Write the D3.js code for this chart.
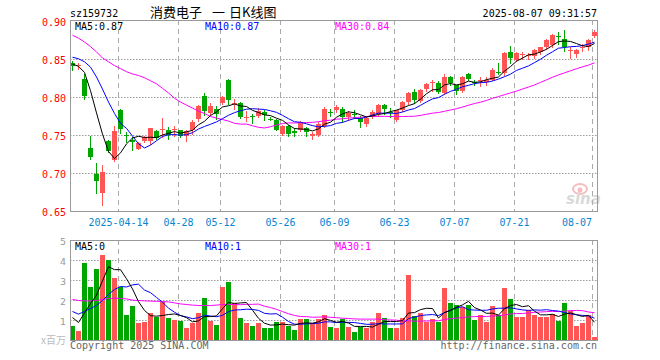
<!DOCTYPE html>
<html>
<head>
<meta charset="utf-8">
<script src="https://d3js.org/d3.v7.min.js"></script>
<style>
body { margin: 0; background: #fff; }
svg text { font-family: "DejaVu Sans Mono", "Liberation Mono", monospace; font-size: 10px; }
</style>
</head>
<body>
<div id="chart"></div>
<script>

// trading days shown (2025)
var dates = [
	"04-01","04-02","04-03","04-07","04-08","04-09","04-10","04-11","04-14","04-15",
	"04-16","04-17","04-18","04-21","04-22","04-23","04-24","04-25","04-28","04-29",
	"04-30","05-06","05-07","05-08","05-09","05-12","05-13","05-14","05-15","05-16",
	"05-19","05-20","05-21","05-22","05-23","05-26","05-27","05-28","05-29","05-30",
	"06-03","06-04","06-05","06-06","06-09","06-10","06-11","06-12","06-13","06-16",
	"06-17","06-18","06-19","06-20","06-23","06-24","06-25","06-26","06-27","06-30",
	"07-01","07-02","07-03","07-04","07-07","07-08","07-09","07-10","07-11","07-14",
	"07-15","07-16","07-17","07-18","07-21","07-22","07-23","07-24","07-25","07-28",
	"07-29","07-30","07-31","08-01","08-04","08-05","08-06","08-07"
];

var opens = [
	0.846,0.841,0.824,0.733,0.700,0.674,0.743,0.718,0.784,0.7504,
	0.7447,0.7325,0.7425,0.7434,0.7557,0.7575,0.7575,0.758,0.7566,0.7487,
	0.7566,0.7715,0.8026,0.7794,0.7851,0.7925,0.8224,0.7925,0.7934,0.7728,
	0.7763,0.7755,0.7807,0.772,0.7706,0.7522,0.7619,0.7553,0.7566,0.7597,
	0.7487,0.7513,0.763,0.7812,0.7829,0.7843,0.7741,0.7786,0.7733,0.7654,
	0.7741,0.7785,0.7895,0.7805,0.7706,0.7835,0.7939,0.807,0.796,0.8114,
	0.8197,0.8197,0.8057,0.8276,0.8158,0.8092,0.8303,0.821,0.8215,0.8202,
	0.8233,0.8338,0.832,0.8605,0.8496,0.8563,0.855,0.854,0.8596,0.8671,
	0.8697,0.881,0.8772,0.8623,0.8575,0.8667,0.8662,0.8803
];

var highs = [
	0.848,0.846,0.831,0.750,0.714,0.711,0.744,0.763,0.785,0.7544,
	0.7478,0.7412,0.7487,0.7596,0.7566,0.7732,0.7618,0.763,0.7575,0.7566,
	0.7706,0.7895,0.8057,0.7934,0.7882,0.8026,0.8246,0.7982,0.7938,0.7816,
	0.7785,0.786,0.783,0.775,0.772,0.7632,0.7632,0.7596,0.7697,0.761,
	0.7544,0.7675,0.7873,0.7851,0.7895,0.7881,0.782,0.7838,0.7763,0.7741,
	0.7829,0.7917,0.7917,0.7864,0.7838,0.795,0.807,0.8114,0.8114,0.8189,
	0.8232,0.8211,0.8311,0.8289,0.8171,0.8289,0.832,0.8233,0.8268,0.8276,
	0.8386,0.8452,0.8596,0.8684,0.8596,0.8605,0.8583,0.864,0.8671,0.8772,
	0.8829,0.8868,0.889,0.8662,0.864,0.8706,0.8772,0.889
];

var lows = [
	0.836,0.837,0.798,0.719,0.674,0.659,0.728,0.717,0.753,0.7412,
	0.7303,0.7316,0.7412,0.739,0.745,0.7478,0.7452,0.750,0.7478,0.7434,
	0.7522,0.7697,0.7776,0.7776,0.7719,0.7917,0.7917,0.7851,0.7728,0.7697,
	0.7662,0.774,0.771,0.770,0.757,0.7513,0.750,0.750,0.7557,0.7487,
	0.7456,0.750,0.761,0.7763,0.7807,0.7675,0.7698,0.7733,0.7618,0.763,
	0.7733,0.7763,0.7785,0.775,0.769,0.782,0.7917,0.7925,0.7939,0.8092,
	0.8092,0.8057,0.8048,0.8171,0.804,0.807,0.8224,0.816,0.8145,0.8158,
	0.8224,0.8311,0.830,0.8452,0.8478,0.8509,0.8509,0.8522,0.8574,0.864,
	0.867,0.8706,0.8618,0.8522,0.8531,0.8618,0.8627,0.8794
];

var closes = [
	0.842,0.843,0.802,0.7215,0.690,0.7026,0.729,0.7557,0.758,0.7496,
	0.7412,0.7404,0.7478,0.7596,0.7469,0.7588,0.7513,0.7588,0.750,0.7553,
	0.7684,0.7882,0.7816,0.7882,0.7785,0.8013,0.7961,0.7934,0.775,0.775,
	0.776,0.782,0.7772,0.771,0.7575,0.7619,0.7522,0.7531,0.7684,0.7544,
	0.7522,0.7654,0.7843,0.7807,0.7873,0.7741,0.7794,0.7782,0.7675,0.7733,
	0.7803,0.7895,0.7843,0.780,0.7829,0.7939,0.8057,0.797,0.810,0.818,
	0.8202,0.807,0.8276,0.8189,0.8092,0.8276,0.8246,0.8195,0.8224,0.8233,
	0.8364,0.8333,0.8583,0.8522,0.8588,0.8566,0.8553,0.8627,0.8662,0.8763,
	0.882,0.8805,0.8671,0.8627,0.8627,0.8671,0.8759,0.8868
];

// volume in millions
var volumes = [
	0.72,0.5,3.87,2.67,3.57,4.3,4.05,3.12,2.67,1.3,
	1.75,0.87,0.92,1.37,1.17,1.92,1.12,1.05,1.0,0.62,
	0.87,1.37,2.12,1.0,0.8,2.67,2.92,1.88,1.12,0.9,
	0.75,0.9,0.65,0.65,0.95,0.95,0.75,0.55,1.08,1.08,
	0.88,1.1,1.3,0.67,0.62,1.08,0.7,0.45,0.67,0.62,
	0.92,1.4,1.15,0.65,0.62,1.15,3.3,1.25,1.4,0.95,
	1.1,0.92,2.62,1.9,1.77,1.7,1.8,1.05,1.3,0.95,
	1.75,1.3,2.65,2.1,1.2,1.2,1.55,1.3,1.16,1.2,
	1.34,1.0,1.9,1.46,0.75,0.9,1.28,0.16
];

var ma5Head = [0.844, 0.841, 0.833, 0.809];
var ma10Head = [0.853, 0.851, 0.847, 0.840, 0.827, 0.811, 0.794, 0.779, 0.766];
var ma30Head = [0.882,0.878,0.873,0.867,0.860,0.852,0.847,0.842,0.838,0.834,
	0.831,0.829,0.826,0.822,0.818,0.812,0.806,0.799,0.794,0.790,
	0.786,0.782,0.779,0.775,0.773,0.771,0.769,0.766,0.765];
var volMa5Head = [1.15, 0.9, 1.38, 1.85];
var volMa10Head = [1.45, 1.32, 1.45, 1.6, 1.75, 2.0, 2.3, 2.55, 2.7];
var volMa30Head = [2.05,2.0,1.98,1.98,2.0,2.05,2.1,2.12,2.1,2.08,
	2.02,2.0,1.98,1.97,1.96,1.95,1.93,1.88,1.83,1.8,
	1.77,1.75,1.75,1.75,1.77,1.8,1.8,1.8,1.79];

var priceTicks = [0.90, 0.85, 0.80, 0.75, 0.70, 0.65];
var volTicks = [5, 4, 3, 2, 1];
var tickDates = ["04-14","04-28","05-12","05-26","06-09","06-23","07-07","07-21","08-07"];
var tickLabels = ["2025-04-14","04-28","05-12","05-26","06-09","06-23","07-07","07-21","08-07"];

var upColor = "#ff5555";
var downColor = "#00a600";
var maColors = ["#000000", "#0000ff", "#ff00ff"];

var svgWidth = 660;
var svgHeight = 360;

var plot = { left: 70, right: 597, top: 20, bottom: 211 };
var volPlot = { top: 240, bottom: 340 };

var svg = d3.select("#chart")
	.append("svg")
	.attr("width", svgWidth)
	.attr("height", svgHeight);

// scales
var xScale = d3.scaleLinear()
	.domain([0, dates.length - 1])
	.range([72, 594]);

var yScale = d3.scaleLinear()
	.domain([0.65, 0.90])
	.range([plot.bottom + 0.5, 21.5]);

var vScale = d3.scaleLinear()
	.domain([0, 5])
	.range([volPlot.bottom + 0.5, volPlot.top + 0.5]);

function movingAvg(values, n, head) {
	return values.map(function(v, i) {
		if (i < n - 1) return head[i];
		return d3.mean(values.slice(i - n + 1, i + 1));
	});
}

var ma5 = movingAvg(closes, 5, ma5Head);
var ma10 = movingAvg(closes, 10, ma10Head);
var ma30 = movingAvg(closes, 30, ma30Head);
var vma5 = movingAvg(volumes, 5, volMa5Head);
var vma10 = movingAvg(volumes, 10, volMa10Head);
var vma30 = movingAvg(volumes, 30, volMa30Head);

var last = dates.length - 1;
function trunc2(v) { return (Math.floor(v * 100 + 1e-6) / 100).toFixed(2); }

// top texts
svg.append("text")
	.attr("x", plot.left)
	.attr("y", 17)
	.text("sz159732");

var title = svg.append("text")
	.attr("y", 17)
	.style("font-family", "'Noto Sans CJK SC', sans-serif")
	.style("font-size", "13px");
title.append("tspan").attr("x", 150).text("消费电子");
title.append("tspan").attr("x", 212).text("一");
title.append("tspan").attr("x", 229).text("日K线图");

svg.append("text")
	.attr("x", plot.right)
	.attr("y", 17)
	.attr("text-anchor", "end")
	.text("2025-08-07 09:31:57");

// grid lines
var tickIdx = tickDates.map(function(d) { return dates.indexOf(d); });

function drawGrid(top, bottom, hValues, scale) {
	var g = svg.append("g");
	g.selectAll(".hgrid")
		.data(hValues)
		.enter()
		.append("line")
		.attr("x1", plot.left)
		.attr("x2", plot.right)
		.attr("y1", d => scale(d))
		.attr("y2", d => scale(d))
		.attr("stroke", "#999")
		.attr("stroke-dasharray", "1.5,1.5");
	g.selectAll(".vgrid")
		.data(tickIdx)
		.enter()
		.append("line")
		.attr("x1", d => xScale(d) - 1.5)
		.attr("x2", d => xScale(d) - 1.5)
		.attr("y1", top)
		.attr("y2", bottom)
		.attr("stroke", "#aaa")
		.attr("stroke-dasharray", "5,4");
}

drawGrid(plot.top, plot.bottom, [0.85, 0.80, 0.75, 0.70], yScale);
drawGrid(volPlot.top, volPlot.bottom, [4, 3, 2, 1], vScale);

// sina watermark
var mark = svg.append("g").attr("opacity", 0.55);
mark.append("ellipse")
	.attr("cx", 580).attr("cy", 189).attr("rx", 7).attr("ry", 5)
	.attr("fill", "none").attr("stroke", "#e88").attr("stroke-width", 2);
mark.append("circle")
	.attr("cx", 580).attr("cy", 190).attr("r", 2.5)
	.attr("fill", "#e88");
mark.append("text")
	.attr("x", 566)
	.attr("y", 204)
	.style("font-family", "'DejaVu Sans', sans-serif")
	.style("font-size", "15px")
	.style("font-weight", "bold")
	.style("font-style", "italic")
	.attr("fill", "#bbb")
	.text("sina");

// candles
var idx = d3.range(dates.length);
var candles = svg.append("g");

candles.selectAll(".wick")
	.data(idx)
	.enter()
	.append("line")
	.attr("x1", i => xScale(i) + 0.5)
	.attr("x2", i => xScale(i) + 0.5)
	.attr("y1", i => Math.round(yScale(highs[i])))
	.attr("y2", i => Math.round(yScale(lows[i])) + 1)
	.attr("stroke", i => closes[i] >= opens[i] ? upColor : downColor);

candles.selectAll(".body")
	.data(idx)
	.enter()
	.append("rect")
	.attr("x", i => xScale(i) - 2)
	.attr("width", 5)
	.attr("y", i => Math.round(yScale(Math.max(opens[i], closes[i]))))
	.attr("height", i => Math.max(1, Math.round(yScale(Math.min(opens[i], closes[i]))) - Math.round(yScale(Math.max(opens[i], closes[i])))))
	.attr("fill", i => closes[i] >= opens[i] ? upColor : downColor);

// volume bars
svg.append("g")
	.selectAll("rect")
	.data(idx)
	.enter()
	.append("rect")
	.attr("x", i => xScale(i) - 2)
	.attr("width", 5)
	.attr("y", i => Math.round(vScale(volumes[i])))
	.attr("height", i => volPlot.bottom - Math.round(vScale(volumes[i])))
	.attr("fill", i => closes[i] >= opens[i] ? upColor : downColor);

// moving average lines
function drawLine(values, scale, color) {
	var line = d3.line()
		.x((d, i) => xScale(i) + 0.5)
		.y(d => scale(d));
	svg.append("path")
		.datum(values)
		.attr("d", line)
		.attr("fill", "none")
		.attr("stroke", color)
		.attr("stroke-width", 1);
}

drawLine(ma30, yScale, maColors[2]);
drawLine(ma10, yScale, maColors[1]);
drawLine(ma5, yScale, maColors[0]);
drawLine(vma30, vScale, maColors[2]);
drawLine(vma10, vScale, maColors[1]);
drawLine(vma5, vScale, maColors[0]);

// frames
svg.append("rect")
	.attr("x", plot.left + 0.5)
	.attr("y", plot.top + 0.5)
	.attr("width", plot.right - plot.left)
	.attr("height", plot.bottom - plot.top)
	.attr("fill", "none")
	.attr("stroke", "#999");

svg.append("rect")
	.attr("x", plot.left + 0.5)
	.attr("y", volPlot.top + 0.5)
	.attr("width", plot.right - plot.left)
	.attr("height", volPlot.bottom - volPlot.top)
	.attr("fill", "none")
	.attr("stroke", "#999");

// price labels
svg.append("g")
	.selectAll("text")
	.data(priceTicks)
	.enter()
	.append("text")
	.attr("x", 66)
	.attr("y", d => yScale(d) + 4)
	.attr("text-anchor", "end")
	.attr("fill", "#f00")
	.text(d => d.toFixed(2));

// volume labels
svg.append("g")
	.selectAll("text")
	.data(volTicks)
	.enter()
	.append("text")
	.attr("x", 66)
	.attr("y", d => vScale(d) + 4)
	.attr("text-anchor", "end")
	.attr("fill", "#999")
	.style("font-family", "'DejaVu Sans', sans-serif")
	.style("font-size", "9.5px")
	.text(d => d);

svg.append("text")
	.attr("x", 66)
	.attr("y", 344)
	.attr("text-anchor", "end")
	.attr("fill", "#bbb")
	.style("font-family", "'Noto Sans CJK SC', sans-serif")
	.style("font-size", "10px")
	.text("x百万");

// date labels
svg.append("g")
	.selectAll("text")
	.data(tickIdx)
	.enter()
	.append("text")
	.attr("x", (d, i) => i === tickIdx.length - 1 ? plot.right - 5 : xScale(d) - 1.5)
	.attr("y", 226)
	.attr("text-anchor", (d, i) => i === tickIdx.length - 1 ? "end" : "middle")
	.attr("fill", "#0a84d0")
	.text((d, i) => tickLabels[i]);

// MA legends
var priceLegend = ["MA5:" + trunc2(ma5[last]), "MA10:" + trunc2(ma10[last]), "MA30:" + trunc2(ma30[last])];
var volLegend = ["MA5:" + Math.floor(vma5[last]), "MA10:" + Math.floor(vma10[last]), "MA30:" + Math.floor(vma30[last])];

priceLegend.forEach(function(t, i) {
	svg.append("text")
		.attr("x", 75 + 130 * i)
		.attr("y", 30)
		.attr("fill", maColors[i])
		.text(t);
});

volLegend.forEach(function(t, i) {
	svg.append("text")
		.attr("x", 75 + 130 * i)
		.attr("y", 250)
		.attr("fill", maColors[i])
		.text(t);
});

// footer
svg.append("text")
	.attr("x", plot.left)
	.attr("y", 349)
	.attr("fill", "#666")
	.text("Copyright 2025 SINA.COM");

svg.append("text")
	.attr("x", plot.right)
	.attr("y", 349)
	.attr("text-anchor", "end")
	.attr("fill", "#666")
	.text("http://finance.sina.com.cn");

</script>
</body>
</html>
